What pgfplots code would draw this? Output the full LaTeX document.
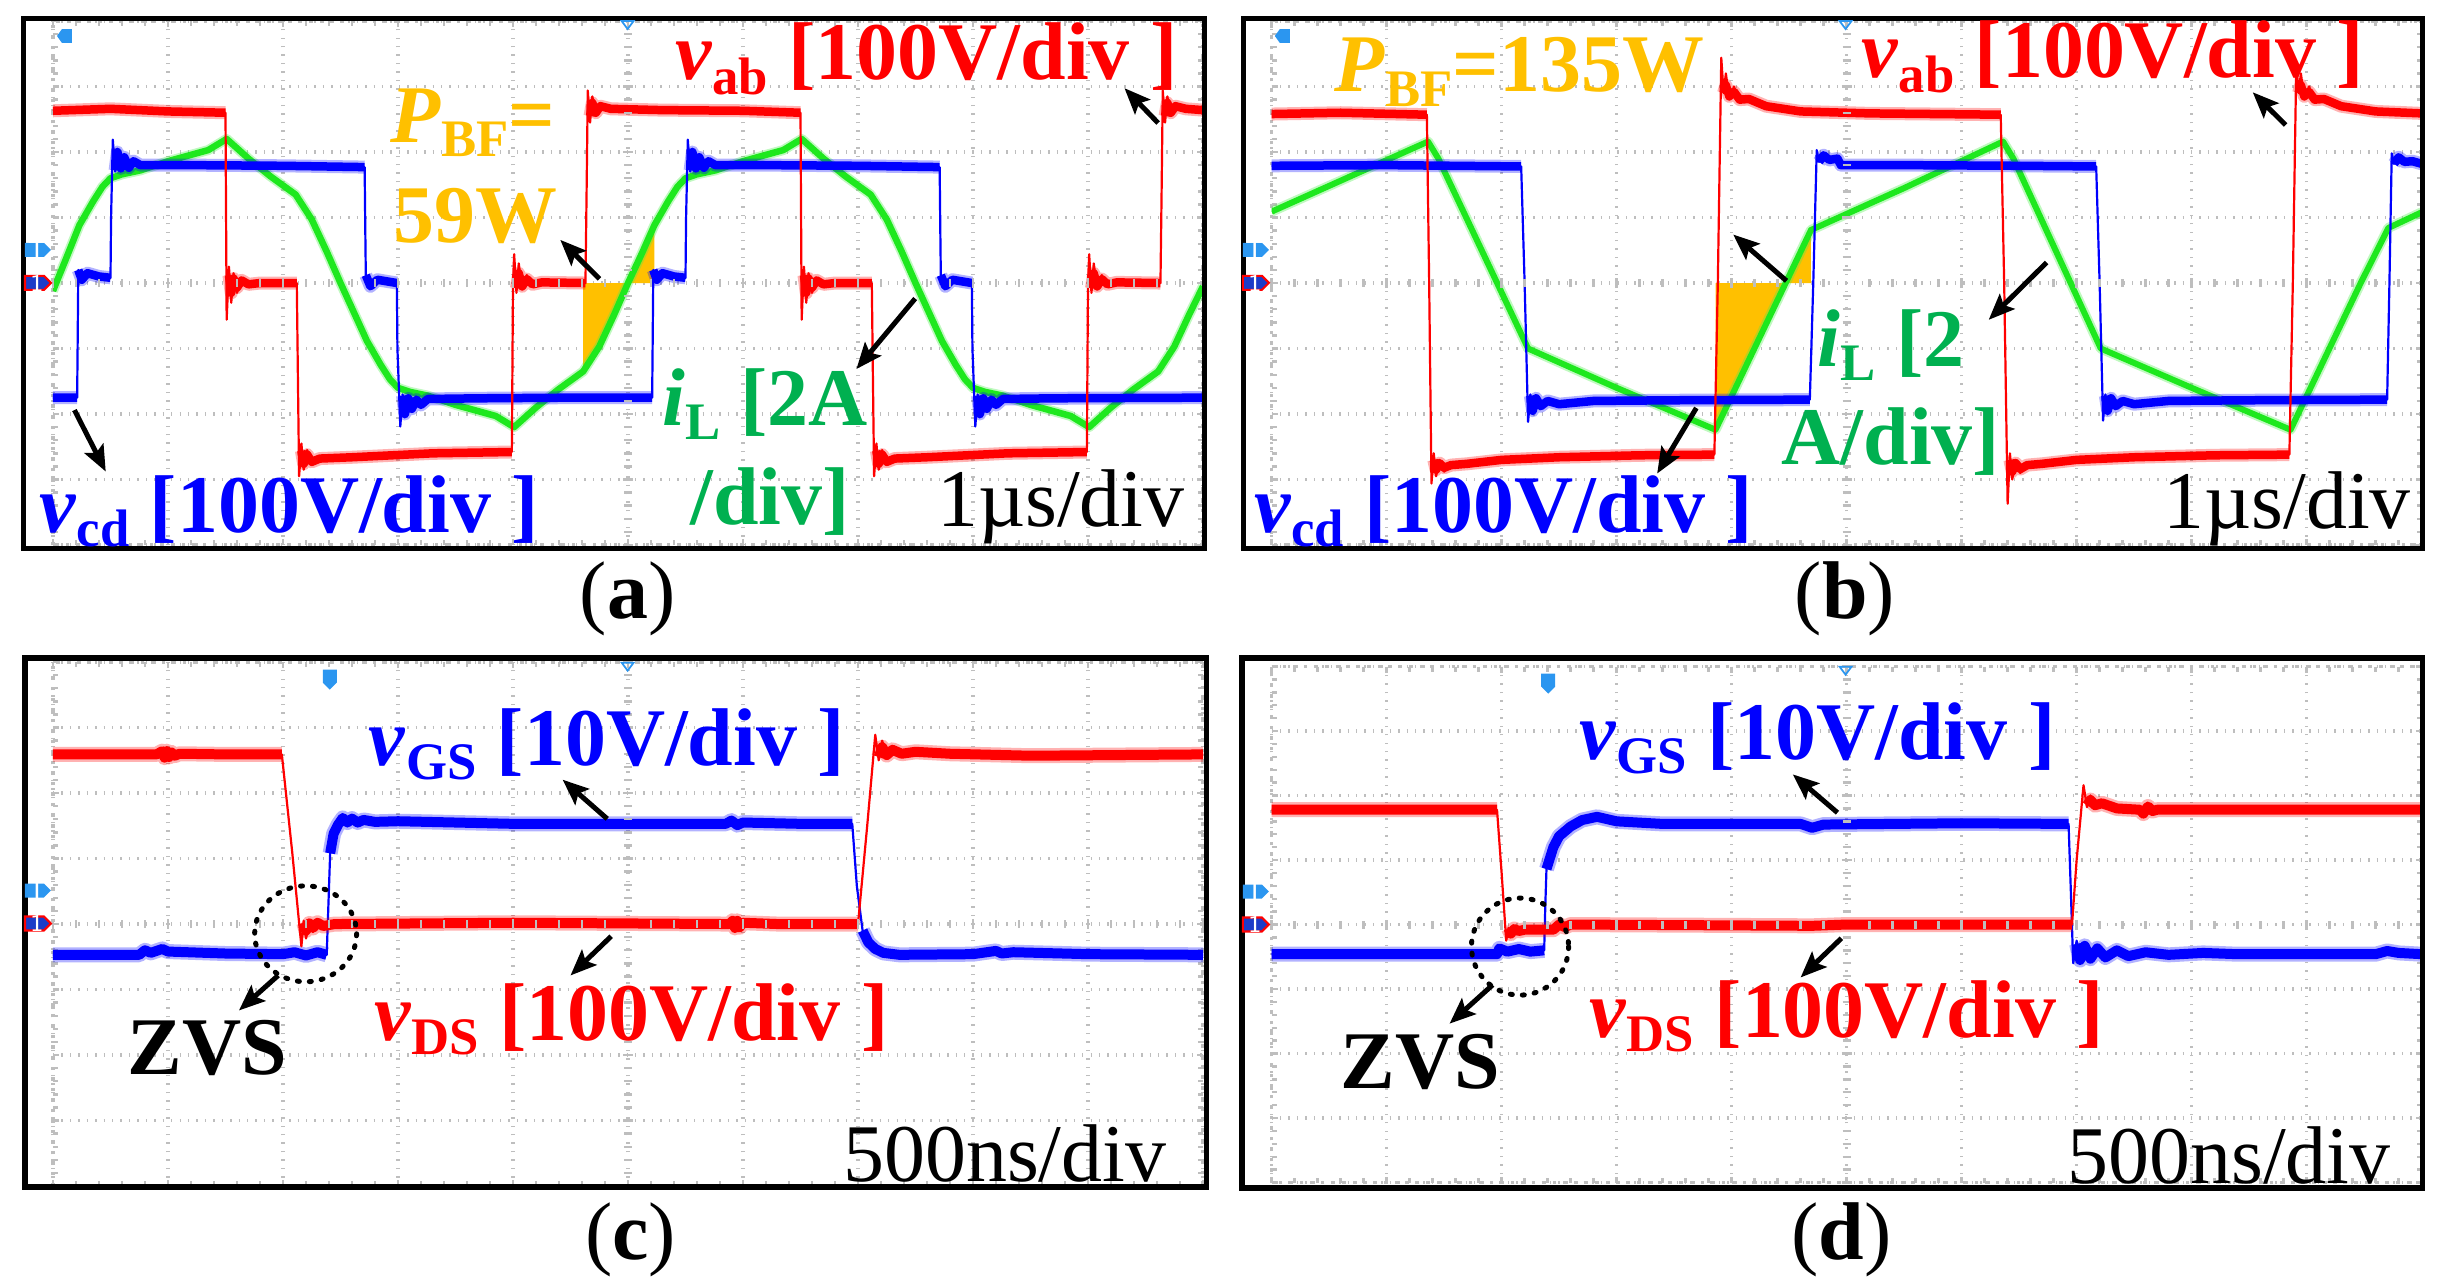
\documentclass[border=0pt]{standalone}
\usepackage{fontspec}
\setmainfont{Liberation Serif}
\usepackage{pgfplots}
\pgfplotsset{compat=1.18}
\usepackage{pgfplotstable}
\usetikzlibrary{arrows.meta}

\definecolor{tred}{HTML}{FF0000}
\definecolor{tblue}{HTML}{0000FF}
\definecolor{tgreen}{HTML}{1EE81E}
\definecolor{lgreen}{HTML}{00B050}
\definecolor{orng}{HTML}{FFC000}
\definecolor{mblue}{HTML}{2B96F0}
\definecolor{dblue}{HTML}{1C3CC8}
\definecolor{gridc}{HTML}{BEBEBE}

\newcommand{\fs}{\fontsize{23.3pt}{28pt}\selectfont}
\newcommand{\sub}[1]{\raisebox{-4pt}{\fontsize{15pt}{18pt}\selectfont #1}}

\pgfplotsset{
 scopeax/.style={scale only axis, width=11.5cm, anchor=south west,
   xmin=0,xmax=10,ymin=-4,ymax=4, xtick={0,...,10}, ytick={-4,...,4},
   minor x tick num=4, minor y tick num=4, xticklabels={}, yticklabels={},
   grid=major, major grid style={gridc, dotted, line width=1pt},
   axis line style={gridc, dotted, line width=1pt},
   tick align=inside, major tick length=0.06cm, minor tick length=0.05cm,
   tick style={gridc, line width=0.7pt}},
 midax/.style={scale only axis, width=11.5cm, anchor=south west,
   xmin=-5,xmax=5,ymin=-4,ymax=4, axis lines=middle, axis line style={draw=none},
   xtick={-5,...,5}, ytick={-4,...,4}, minor x tick num=4, minor y tick num=4,
   xticklabels={}, yticklabels={}, tick align=center,
   major tick length=0.1cm, minor tick length=0.08cm,
   tick style={gridc, line width=0.7pt}},
 edge/.style={line width=0.022cm, line join=round},
 band/.style={line width=0.085cm, line join=round, unbounded coords=jump},
 halo/.style={line width=0.13cm, opacity=0.3, line join=round, unbounded coords=jump},
 bandc/.style={line width=0.1cm, line join=round, unbounded coords=jump},
 haloc/.style={line width=0.15cm, opacity=0.3, line join=round, unbounded coords=jump},
}

% ---------------- panel (a) ----------------
\pgfplotstableread{
x y t
0 2.63 2.63
0.5 2.66 2.66
1.0 2.62 2.62
1.50 2.60 2.60
1.505 1.0 nan
1.51 -0.56 nan
1.53 0.25 0.12
1.55 -0.30 -0.15
1.57 0.15 0.07
1.60 -0.15 -0.07
1.64 0.08 0.04
1.70 -0.04 -0.02
1.80 0.00 0.00
2.12 0.00 0.00
2.13 -1.5 nan
2.14 -2.95 nan
2.16 -2.45 -2.56
2.18 -2.85 -2.76
2.21 -2.55 -2.62
2.25 -2.78 -2.73
2.32 -2.68 -2.68
2.6 -2.66 -2.66
3.3 -2.60 -2.60
3.99 -2.58 -2.58
4.00 0 nan
4.01 0.44 nan
4.03 -0.15 -0.08
4.05 0.30 0.15
4.08 -0.10 -0.05
4.12 0.12 0.06
4.17 -0.03 -0.02
4.25 0.02 0.01
4.63 0.00 0.00
4.64 1.4 nan
4.65 2.94 nan
4.67 2.45 2.55
4.69 2.85 2.75
4.72 2.55 2.60
4.76 2.75 2.70
4.85 2.66 2.66
5.3 2.64 2.64
6.0 2.63 2.63
6.50 2.60 2.60
6.505 1.0 nan
6.51 -0.56 nan
6.53 0.25 0.12
6.55 -0.30 -0.15
6.57 0.15 0.07
6.60 -0.15 -0.07
6.64 0.08 0.04
6.70 -0.04 -0.02
6.80 0.00 0.00
7.12 0.00 0.00
7.13 -1.5 nan
7.14 -2.95 nan
7.16 -2.45 -2.56
7.18 -2.85 -2.76
7.21 -2.55 -2.62
7.25 -2.78 -2.73
7.32 -2.68 -2.68
7.6 -2.66 -2.66
8.3 -2.60 -2.60
8.99 -2.58 -2.58
9.00 0 nan
9.01 0.44 nan
9.03 -0.15 -0.08
9.05 0.30 0.15
9.08 -0.10 -0.05
9.12 0.12 0.06
9.17 -0.03 -0.02
9.25 0.02 0.01
9.63 0.00 0.00
9.64 1.4 nan
9.65 2.94 nan
9.67 2.45 2.55
9.69 2.85 2.75
9.72 2.55 2.60
9.76 2.75 2.70
9.85 2.66 2.66
10 2.64 2.64
}\redA

\pgfplotstableread{
x y t
0 -1.75 -1.75
0.21 -1.75 -1.75
0.215 -0.8 nan
0.22 0.20 0.20
0.25 0.05 0.05
0.30 0.15 0.15
0.40 0.10 0.10
0.50 0.08 0.08
0.505 1.0 nan
0.52 2.19 nan
0.54 1.70 1.72
0.56 2.05 2.00
0.59 1.74 1.75
0.62 1.95 1.92
0.66 1.76 1.76
0.70 1.88 1.86
0.76 1.80 1.80
1.2 1.80 1.80
2.0 1.79 1.79
2.71 1.77 1.77
2.715 0.9 nan
2.72 0.12 0.12
2.76 -0.05 -0.05
2.82 0.05 0.05
2.99 0.00 0.00
2.995 -1.0 nan
3.02 -2.19 nan
3.04 -1.70 -1.72
3.06 -2.05 -2.00
3.09 -1.76 -1.76
3.12 -1.95 -1.92
3.16 -1.78 -1.78
3.20 -1.88 -1.86
3.26 -1.77 -1.77
3.7 -1.76 -1.76
4.5 -1.75 -1.75
5.21 -1.75 -1.75
5.215 -0.8 nan
5.22 0.20 0.20
5.25 0.05 0.05
5.30 0.15 0.15
5.40 0.10 0.10
5.50 0.08 0.08
5.505 1.0 nan
5.52 2.19 nan
5.54 1.70 1.72
5.56 2.05 2.00
5.59 1.74 1.75
5.62 1.95 1.92
5.66 1.76 1.76
5.70 1.88 1.86
5.76 1.80 1.80
6.2 1.80 1.80
7.0 1.79 1.79
7.71 1.77 1.77
7.715 0.9 nan
7.72 0.12 0.12
7.76 -0.05 -0.05
7.82 0.05 0.05
7.99 0.00 0.00
7.995 -1.0 nan
8.02 -2.19 nan
8.04 -1.70 -1.72
8.06 -2.05 -2.00
8.09 -1.76 -1.76
8.12 -1.95 -1.92
8.16 -1.78 -1.78
8.20 -1.88 -1.86
8.26 -1.77 -1.77
8.7 -1.76 -1.76
10 -1.75 -1.75
}\blueA

\pgfplotstableread{
x y
0 -0.12
0.12 0.40
0.23 0.885
0.35 1.25
0.43 1.47
0.5 1.6
0.6 1.66
0.76 1.72
1.0 1.86
1.35 2.03
1.51 2.2
1.70 1.90
1.89 1.63
2.11 1.35
2.25 0.97
2.38 0.48
2.5 0
2.73 -0.885
2.85 -1.25
2.93 -1.47
3.0 -1.6
3.1 -1.66
3.26 -1.72
3.5 -1.86
3.85 -2.03
4.01 -2.2
4.20 -1.90
4.39 -1.63
4.61 -1.35
4.75 -0.97
4.88 -0.48
5.0 0
5.12 0.45
5.23 0.885
5.35 1.25
5.43 1.47
5.5 1.6
5.6 1.66
5.76 1.72
6.0 1.86
6.35 2.03
6.51 2.2
6.70 1.90
6.89 1.63
7.11 1.35
7.25 0.97
7.38 0.48
7.5 0
7.73 -0.885
7.85 -1.25
7.93 -1.47
8.0 -1.6
8.1 -1.66
8.26 -1.72
8.5 -1.86
8.85 -2.03
9.01 -2.2
9.20 -1.90
9.39 -1.63
9.61 -1.35
9.75 -0.97
9.88 -0.48
10 -0.05
}\greenA

% ---------------- panel (b) ----------------
\pgfplotstableread{
x y t
0 2.58 2.58
0.6 2.60 2.60
1.35 2.57 2.57
1.37 0 nan
1.39 -3.06 nan
1.41 -2.60 -2.70
1.43 -2.95 -2.85
1.46 -2.70 -2.75
1.50 -2.88 -2.82
1.56 -2.78 -2.78
1.7 -2.76 -2.76
2.0 -2.70 -2.70
2.5 -2.66 -2.66
3.2 -2.63 -2.63
3.85 -2.62 -2.62
3.88 0 nan
3.91 3.44 nan
3.93 2.90 2.90
3.95 3.20 3.02
3.98 2.80 2.85
4.02 3.00 2.92
4.07 2.78 2.80
4.15 2.82 2.81
4.3 2.70 2.70
4.6 2.62 2.62
5.2 2.59 2.59
6.34 2.57 2.57
6.37 0 nan
6.40 -3.37 nan
6.42 -2.60 -2.70
6.44 -3.00 -2.88
6.47 -2.70 -2.75
6.51 -2.90 -2.84
6.57 -2.78 -2.78
6.7 -2.76 -2.76
7.0 -2.70 -2.70
7.5 -2.66 -2.66
8.2 -2.63 -2.63
8.85 -2.62 -2.62
8.88 0 nan
8.91 3.34 nan
8.93 2.90 2.90
8.95 3.20 3.02
8.98 2.80 2.85
9.02 3.00 2.92
9.07 2.78 2.80
9.15 2.82 2.81
9.3 2.70 2.70
9.6 2.62 2.62
10 2.59 2.59
}\redB

\pgfplotstableread{
x y t
0 1.79 1.79
1.0 1.80 1.80
2.17 1.78 1.78
2.20 0 nan
2.23 -2.12 nan
2.25 -1.70 -1.72
2.27 -2.00 -1.95
2.30 -1.75 -1.76
2.34 -1.92 -1.88
2.40 -1.80 -1.80
2.5 -1.85 -1.85
2.8 -1.80 -1.80
3.5 -1.79 -1.79
4.68 -1.78 -1.78
4.71 0 nan
4.74 2.03 nan
4.76 1.85 1.85
4.80 1.95 1.95
4.85 1.88 1.88
4.92 1.90 1.90
4.95 1.80 1.80
5.5 1.80 1.80
6.5 1.79 1.79
7.17 1.78 1.78
7.20 0 nan
7.23 -2.10 nan
7.25 -1.70 -1.72
7.27 -2.00 -1.95
7.30 -1.75 -1.76
7.34 -1.92 -1.88
7.40 -1.80 -1.80
7.5 -1.85 -1.85
7.8 -1.80 -1.80
8.5 -1.79 -1.79
9.70 -1.78 -1.78
9.72 0 nan
9.74 1.98 nan
9.76 1.82 1.82
9.80 1.92 1.92
9.85 1.85 1.85
9.92 1.86 1.86
10 1.82 1.82
}\blueB

\pgfplotstableread{
x y
0 1.09
1.36 2.16
1.45 1.90
2.23 -1.00
3.0 -1.60
3.86 -2.24
4.47 0
4.69 0.81
5.5 1.45
6.36 2.16
6.45 1.90
7.21 -1.00
8.0 -1.60
8.86 -2.24
9.47 0
9.71 0.84
10 1.08
}\greenB

% ---------------- panel (c) ----------------
\pgfplotstableread{
x y t
0 2.59 2.59
0.9 2.59 2.59
0.95 2.64 2.64
0.97 2.54 2.54
0.99 2.64 2.64
1.01 2.55 2.55
1.03 2.62 2.62
1.06 2.57 2.57
1.10 2.60 2.60
1.5 2.59 2.59
1.99 2.59 2.59
2.08 1.1 nan
2.16 -0.34 nan
2.18 0.05 0.02
2.20 -0.22 -0.10
2.23 0.02 0.01
2.26 -0.12 -0.06
2.30 0.03 0.02
2.35 -0.05 -0.03
2.45 0.00 0.00
4.0 0.02 0.02
5.88 0.00 0.00
5.91 0.05 0.05
5.93 -0.06 -0.06
5.95 0.05 0.05
5.97 -0.05 -0.05
6.0 0.02 0.02
6.3 0.00 0.00
7.0 0.00 0.00
7.08 1.5 nan
7.15 2.89 nan
7.18 2.50 2.55
7.21 2.80 2.70
7.25 2.55 2.58
7.30 2.72 2.66
7.38 2.60 2.60
7.5 2.65 2.63
7.8 2.60 2.60
8.5 2.57 2.57
10 2.59 2.59
}\redC

\pgfplotstableread{
x y t
0 -0.47 -0.47
0.75 -0.47 -0.47
0.80 -0.40 -0.40
0.85 -0.44 -0.44
0.95 -0.38 -0.38
1.00 -0.42 -0.42
1.5 -0.45 -0.45
2.0 -0.46 -0.46
2.1 -0.43 -0.43
2.2 -0.48 -0.48
2.3 -0.43 -0.43
2.38 -0.47 -0.47
2.395 0.3 nan
2.41 1.08 1.08
2.44 1.38 1.38
2.48 1.52 1.52
2.52 1.62 1.62
2.56 1.55 1.55
2.60 1.61 1.61
2.65 1.55 1.55
2.70 1.59 1.59
2.8 1.56 1.56
3.0 1.57 1.57
4.0 1.53 1.53
5.85 1.53 1.53
5.9 1.58 1.58
5.95 1.51 1.51
6.0 1.55 1.55
6.5 1.53 1.53
6.95 1.53 1.53
6.99 0.58 nan
7.04 -0.10 -0.10
7.09 -0.28 -0.28
7.15 -0.38 -0.38
7.22 -0.44 -0.44
7.36 -0.47 -0.47
8.0 -0.46 -0.46
8.2 -0.41 -0.41
8.25 -0.45 -0.45
8.35 -0.43 -0.43
9.0 -0.46 -0.46
10 -0.47 -0.47
}\blueC

% ---------------- panel (d) ----------------
\pgfplotstableread{
x y t
0 1.78 1.78
1.0 1.78 1.78
1.96 1.78 1.78
2.00 0.8 nan
2.04 -0.25 nan
2.06 -0.05 -0.06
2.08 -0.18 -0.14
2.11 -0.06 -0.07
2.15 -0.12 -0.10
2.2 -0.08 -0.08
2.45 -0.08 -0.08
2.5 0.00 0.00
2.55 -0.04 -0.04
2.6 0.00 0.00
4.7 -0.02 -0.02
5.0 0.00 0.00
6.96 0.00 0.00
7.00 1.0 nan
7.06 2.16 nan
7.09 1.82 1.85
7.12 2.00 1.93
7.16 1.85 1.85
7.22 1.90 1.88
7.35 1.80 1.80
7.55 1.78 1.78
7.58 1.72 1.72
7.62 1.83 1.83
7.66 1.76 1.76
7.7 1.78 1.78
10 1.78 1.78
}\redD

\pgfplotstableread{
x y t
0 -0.46 -0.46
1.0 -0.46 -0.46
1.96 -0.46 -0.46
1.98 -0.37 -0.37
2.05 -0.42 -0.42
2.15 -0.38 -0.38
2.25 -0.42 -0.42
2.37 -0.40 -0.40
2.38 0.3 nan
2.39 0.86 0.86
2.45 1.20 1.20
2.5 1.37 1.37
2.6 1.52 1.52
2.7 1.62 1.62
2.83 1.67 1.67
3.0 1.60 1.60
3.4 1.56 1.56
4.6 1.56 1.56
4.7 1.50 1.50
4.8 1.55 1.55
6.0 1.57 1.57
6.93 1.56 1.56
6.95 0.5 nan
6.97 -0.60 nan
7.00 -0.25 -0.30
7.03 -0.58 -0.55
7.07 -0.30 -0.33
7.12 -0.55 -0.53
7.18 -0.35 -0.37
7.25 -0.52 -0.51
7.35 -0.38 -0.40
7.45 -0.50 -0.49
7.6 -0.42 -0.43
7.8 -0.47 -0.47
8.1 -0.44 -0.44
8.4 -0.46 -0.46
9.6 -0.46 -0.46
9.7 -0.41 -0.41
9.8 -0.44 -0.44
10 -0.46 -0.46
}\blueD

\newcommand{\leftmarks}[2]{%
  \fill[mblue] ({#1-28},{#2-40}) -- ({#1-9},{#2-40}) -- ({#1-2},{#2-33}) -- ({#1-9},{#2-26}) -- ({#1-28},{#2-26}) -- cycle;
  \node[text=white, font=\fontsize{7pt}{7pt}\selectfont\sffamily, inner sep=0pt] at ({#1-16},{#2-33}) {T};
  \fill[dblue, draw=tred, line width=0.6pt] ({#1-28},{#2-7}) -- ({#1-9},{#2-7}) -- ({#1-2},{#2}) -- ({#1-9},{#2+7}) -- ({#1-28},{#2+7}) -- cycle;
  \node[text=white, font=\fontsize{7pt}{7pt}\selectfont\sffamily, inner sep=0pt] at ({#1-16},{#2}) {1};
}

\begin{document}
\begin{tikzpicture}[
  lab/.style={anchor=base west, inner sep=0pt, font=\fs},
  arr/.style={line width=0.05cm, -{Stealth[length=0.26cm, width=0.21cm, inset=0.05cm]}},
  zvs/.style={line width=0.05cm, dash pattern=on 0.02cm off 0.1cm, line cap=round}]
\path[use as bounding box] (0,0) rectangle (24.46cm,-12.83cm);

% ===== (a) =====
\begin{axis}[scopeax, at={(0.53cm,-5.45cm)}, height=5.24cm]
  \addplot[fill=orng, draw=none] coordinates {(4.61,0) (4.61,-1.35) (4.75,-0.97) (4.88,-0.48) (5.0,0) (4.61,0)};
  \addplot[fill=orng, draw=none] coordinates {(5.0,0) (5.12,0.45) (5.23,0.885) (5.23,0) (5.0,0)};
  \addplot[tgreen!80, line width=0.1cm, opacity=0.35, line join=round] table[x=x,y=y] {\greenA};
  \addplot[tgreen, line width=0.065cm, line join=round] table[x=x,y=y] {\greenA};
  \addplot[tblue, edge] table[x=x,y=y] {\blueA};
  \addplot[tblue, halo] table[x=x,y=t] {\blueA};
  \addplot[tblue, band] table[x=x,y=t] {\blueA};
  \addplot[tred, edge] table[x=x,y=y] {\redA};
  \addplot[tred, halo] table[x=x,y=t] {\redA};
  \addplot[tred, band] table[x=x,y=t] {\redA};
\end{axis}
\begin{axis}[midax, at={(0.53cm,-5.45cm)}, height=5.24cm]
  \addplot[draw=none] coordinates {(0,0)};
\end{axis}

% ===== (b) =====
\begin{axis}[scopeax, at={(12.716cm,-5.45cm)}, height=5.24cm]
  \addplot[fill=orng, draw=none] coordinates {(3.86,0) (3.86,-2.24) (4.47,0) (3.86,0)};
  \addplot[fill=orng, draw=none] coordinates {(4.47,0) (4.69,0.81) (4.69,0) (4.47,0)};
  \addplot[tgreen!80, line width=0.1cm, opacity=0.35, line join=round] table[x=x,y=y] {\greenB};
  \addplot[tgreen, line width=0.06cm, line join=round] table[x=x,y=y] {\greenB};
  \addplot[tblue, edge] table[x=x,y=y] {\blueB};
  \addplot[tblue, halo] table[x=x,y=t] {\blueB};
  \addplot[tblue, band] table[x=x,y=t] {\blueB};
  \addplot[tred, edge] table[x=x,y=y] {\redB};
  \addplot[tred, halo] table[x=x,y=t] {\redB};
  \addplot[tred, band] table[x=x,y=t] {\redB};
\end{axis}
\begin{axis}[midax, at={(12.716cm,-5.45cm)}, height=5.24cm]
  \addplot[draw=none] coordinates {(0,0)};
\end{axis}

% ===== (c) =====
\begin{axis}[scopeax, at={(0.53cm,-11.86cm)}, height=5.24cm]
  \addplot[tblue, edge] table[x=x,y=y] {\blueC};
  \addplot[tblue, haloc] table[x=x,y=t] {\blueC};
  \addplot[tblue, bandc] table[x=x,y=t] {\blueC};
  \addplot[tred, edge] table[x=x,y=y] {\redC};
  \addplot[tred, haloc] table[x=x,y=t] {\redC};
  \addplot[tred, bandc] table[x=x,y=t] {\redC};
\end{axis}
\begin{axis}[midax, at={(0.53cm,-11.86cm)}, height=5.24cm]
  \addplot[draw=none] coordinates {(0,0)};
\end{axis}

% ===== (d) =====
\begin{axis}[scopeax, at={(12.716cm,-11.825cm)}, height=5.16cm]
  \addplot[tblue, edge] table[x=x,y=y] {\blueD};
  \addplot[tblue, haloc] table[x=x,y=t] {\blueD};
  \addplot[tblue, bandc] table[x=x,y=t] {\blueD};
  \addplot[tred, edge] table[x=x,y=y] {\redD};
  \addplot[tred, haloc] table[x=x,y=t] {\redD};
  \addplot[tred, bandc] table[x=x,y=t] {\redD};
\end{axis}
\begin{axis}[midax, at={(12.716cm,-11.825cm)}, height=5.16cm]
  \addplot[draw=none] coordinates {(0,0)};
\end{axis}

\begin{scope}[x=0.01cm, y=-0.01cm]
  % frames
  \draw[line width=0.055cm] (23.5,18.4) rectangle (1205,549);
  \draw[line width=0.055cm] (1244,18.4) rectangle (2424,549);
  \draw[line width=0.055cm] (25,658.5) rectangle (1207,1187.7);
  \draw[line width=0.055cm] (1242.6,658.5) rectangle (2424,1188.5);
  % scope markers
  \leftmarks{53}{283}
  \leftmarks{1271.6}{283}
  \leftmarks{53}{924}
  \leftmarks{1271.6}{925}
  \fill[mblue] (57,36) -- (62,29) -- (72,29) -- (72,43) -- (62,43) -- cycle;
  \fill[mblue] (1275.6,36) -- (1280.6,29) -- (1290.6,29) -- (1290.6,43) -- (1280.6,43) -- cycle;
  \draw[mblue, line width=0.5pt] (622,21) -- (634,21) -- (628,29) -- cycle;
  \draw[mblue, line width=0.5pt] (1840.6,21) -- (1852.6,21) -- (1846.6,29) -- cycle;
  \draw[mblue, line width=0.5pt] (622,663) -- (634,663) -- (628,671) -- cycle;
  \draw[mblue, line width=0.5pt] (1840.6,667) -- (1852.6,667) -- (1846.6,675) -- cycle;
  \fill[mblue] (323,670) -- (337,670) -- (337,683) -- (330,690) -- (323,683) -- cycle;
  \fill[mblue] (1542,674) -- (1556,674) -- (1556,687) -- (1549,694) -- (1542,687) -- cycle;

  % ----- labels (a)
  \node[lab, text=tred] at (675,80) {\textbf{\textit{v}\sub{ab} [100V/div ]}};
  \node[lab, text=orng] at (390,143) {\textbf{\textit{P}\sub{BF}=}};
  \node[lab, text=orng] at (393,243) {\textbf{59W}};
  \node[lab, text=lgreen] at (662,426) {\textbf{\textit{i}\sub{L} [2A}};
  \node[lab, text=lgreen] at (690,525) {\textbf{/div]}};
  \node[lab, text=tblue] at (39,533) {\textbf{\textit{v}\sub{cd} [100V/div ]}};
  \node[lab] at (937,527) {1µs/div};
  \node[anchor=base, inner sep=0pt, font=\fs] at (628,619) {(\textbf{a})};
  \draw[arr] (1158.8,123.1) -- (1125.1,88.2);
  \draw[arr] (599.8,279) -- (560.6,240);
  \draw[arr] (915.7,298.7) -- (856.9,369.2);
  \draw[arr] (74.5,410.3) -- (105.8,471.8);

  % ----- labels (b)
  \node[lab, text=orng] at (1335,92) {\textbf{\textit{P}\sub{BF}=135W}};
  \node[lab, text=tred] at (1862,78) {\textbf{\textit{v}\sub{ab} [100V/div ]}};
  \node[lab, text=lgreen] at (1818,367) {\textbf{\textit{i}\sub{L} [2}};
  \node[lab, text=lgreen] at (1782,465) {\textbf{A/div]}};
  \node[lab, text=tblue] at (1254,533) {\textbf{\textit{v}\sub{cd} [100V/div ]}};
  \node[lab] at (2164,529) {1µs/div};
  \node[anchor=base, inner sep=0pt, font=\fs] at (1846,619) {(\textbf{b})};
  \draw[arr] (1787.5,281) -- (1734.2,234.7);
  \draw[arr] (2047.8,262.6) -- (1989.8,320);
  \draw[arr] (1697.3,408.2) -- (1658.1,473.8);
  \draw[arr] (2286.9,125.1) -- (2254,92.3);

  % ----- labels (c)
  \node[lab, text=tblue] at (368.5,765.7) {\textbf{\textit{v}\sub{GS} [10V/div ]}};
  \node[lab, text=tred] at (374,1041) {\textbf{\textit{v}\sub{DS} [100V/div ]}};
  \node[lab] at (127,1075) {\textbf{ZVS}};
  \node[lab] at (843,1182) {500ns/div};
  \node[anchor=base, inner sep=0pt, font=\fs] at (631,1260) {(\textbf{c})};
  \draw[zvs] (305.8,934.3) ellipse [x radius=51, y radius=48];
  \draw[arr] (278.3,976) -- (239.1,1011);
  \draw[arr] (607.6,819.3) -- (562.9,780.1);
  \draw[arr] (611.5,936.8) -- (570.8,976);

  % ----- labels (d)
  \node[lab, text=tblue] at (1579.7,759.5) {\textbf{\textit{v}\sub{GS} [10V/div ]}};
  \node[lab, text=tred] at (1590,1037.8) {\textbf{\textit{v}\sub{DS} [100V/div ]}};
  \node[lab] at (1340.6,1089.3) {\textbf{ZVS}};
  \node[lab] at (2068,1184) {500ns/div};
  \node[anchor=base, inner sep=0pt, font=\fs] at (1842.4,1260) {(\textbf{d})};
  \draw[zvs] (1520.9,947.1) ellipse [x radius=48.6, y radius=48.6];
  \draw[arr] (1493.5,985.4) -- (1450.4,1024.2);
  \draw[arr] (1838.5,813.1) -- (1793.8,774.8);
  \draw[arr] (1842.4,938.8) -- (1801.6,978);
\end{scope}
\end{tikzpicture}
\end{document}
